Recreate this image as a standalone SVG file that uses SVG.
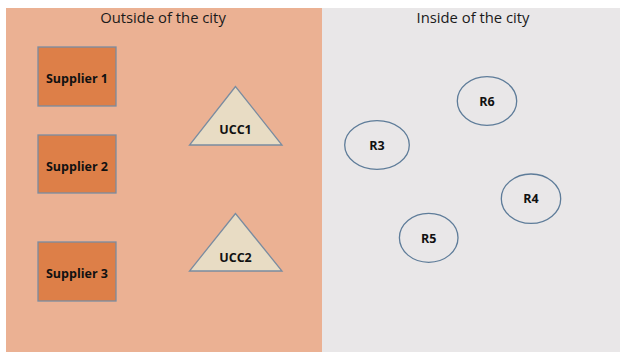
<svg xmlns="http://www.w3.org/2000/svg" width="620" height="352" viewBox="0 0 620 352">
<style>
.title{font-family:"Open Sans","DejaVu Sans",sans-serif;font-size:14.8px;fill:#1a1a1a;text-anchor:middle}
.lbl{font-family:"Open Sans","DejaVu Sans",sans-serif;font-size:12.5px;font-weight:bold;fill:#111;text-anchor:middle}
.sup{fill:#DD7F48;stroke:#7A8CA0;stroke-width:1.3}
.ucc{fill:#E8DCC4;stroke:#7A8CA0;stroke-width:1.3}
.r{fill:none;stroke:#5E7C99;stroke-width:1.3}
</style>
<rect x="0" y="0" width="620" height="352" fill="#FFFFFF"/>
<g id="outside">
<rect x="6" y="8" width="316" height="344" fill="#EBB193"/>
<text class="title" x="163" y="22.5">Outside of the city</text>
</g>
<g id="inside">
<rect x="322" y="8" width="298" height="344" fill="#E9E7E8"/>
<text class="title" x="473" y="22.5">Inside of the city</text>
</g>
<g id="connectors"></g>
<g id="supplier1"><rect class="sup" x="38" y="47" width="78" height="59"/><text class="lbl" x="77" y="82.5">Supplier 1</text></g>
<g id="supplier2"><rect class="sup" x="38" y="135" width="78" height="58"/><text class="lbl" x="77" y="170.5">Supplier 2</text></g>
<g id="supplier3"><rect class="sup" x="38" y="242" width="78" height="59"/><text class="lbl" x="77" y="277.5">Supplier 3</text></g>
<g id="ucc1"><polygon class="ucc" points="235.5,86.5 189.5,145 282,145"/><text class="lbl" x="235.5" y="134">UCC1</text></g>
<g id="ucc2"><polygon class="ucc" points="235.5,213.5 189.5,271 282,271"/><text class="lbl" x="235.5" y="262">UCC2</text></g>
<g id="r6"><ellipse class="r" cx="487" cy="101" rx="29.7" ry="24.3"/><text class="lbl" x="487" y="105.5">R6</text></g>
<g id="r3"><ellipse class="r" cx="377" cy="145" rx="32.3" ry="24.3"/><text class="lbl" x="377" y="149.5">R3</text></g>
<g id="r4"><ellipse class="r" cx="531" cy="198.7" rx="29.7" ry="24.7"/><text class="lbl" x="531" y="203">R4</text></g>
<g id="r5"><ellipse class="r" cx="428.7" cy="237.8" rx="29.3" ry="24.5"/><text class="lbl" x="428.7" y="242.5">R5</text></g>
</svg>
